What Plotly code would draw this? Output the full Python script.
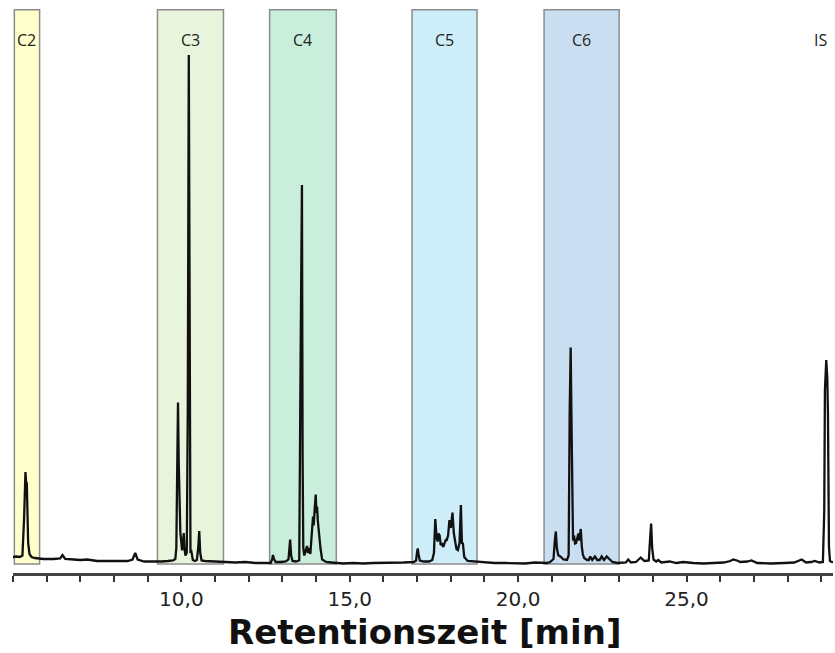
import plotly.graph_objects as go

# ---- data: retention time [min] and detector signal (arbitrary units) ----
seg_c2_t = [5.00, 5.10, 5.20, 5.28, 5.33, 5.36, 5.37, 5.39, 5.41, 5.43, 5.45, 5.49, 5.55, 5.65, 5.77]
seg_c2_y = [0.2, 0.3, 0.2, 0.5, 8.0, 16.5, 17.2, 15.2, 15.0, 9.0, 3.0, 0.8, 0.2, 0.0, -0.1]

gap1_t = [5.9, 6.2, 6.40, 6.47, 6.55, 6.8, 7.0, 7.2, 7.5, 7.8, 8.1, 8.4, 8.55, 8.63, 8.70, 8.9, 9.1, 9.3]
gap1_y = [-0.2, -0.2, -0.1, 0.6, -0.2, -0.3, -0.4, -0.3, -0.6, -0.6, -0.6, -0.6, -0.3, 1.0, -0.3, -0.7, -0.7, -0.8]

seg_c3_t = [9.4, 9.6, 9.75, 9.82, 9.85, 9.88, 9.90, 9.92, 9.95, 9.97, 10.00, 10.02, 10.05, 10.07, 10.09, 10.12,
            10.16, 10.19, 10.22, 10.24, 10.26, 10.27, 10.29, 10.31, 10.34, 10.40, 10.46, 10.50, 10.53, 10.56,
            10.60, 10.7, 10.9, 11.1]
seg_c3_y = [-0.7, -0.6, -0.5, -0.2, 2.0, 20.0, 31.1, 19.5, 9.3, 5.0, 3.0, 1.5, 3.5, 5.0, 2.0, 0.5,
            1.0, 30.0, 100.6, 60.0, 5.0, 1.0, 1.6, 0.2, -0.4, -0.6, -0.4, 2.0, 5.4, 1.0,
            -0.5, -0.6, -0.7, -0.7]

gap2_t = [11.3, 11.6, 11.9, 12.2, 12.5]
gap2_y = [-0.8, -0.9, -0.8, -1.0, -1.0]

seg_c4_t = [12.65, 12.70, 12.72, 12.75, 12.80, 12.95, 13.10, 13.18, 13.21, 13.23, 13.26, 13.30, 13.40, 13.50,
            13.54, 13.56, 13.58, 13.60, 13.62, 13.65, 13.69, 13.73, 13.76, 13.80, 13.83, 13.86, 13.88,
            13.91, 13.93, 13.96, 13.99, 14.01, 14.03, 14.05, 14.07, 14.10, 14.13, 14.18, 14.3, 14.45, 14.6]
seg_c4_y = [-1.0, -0.2, 0.6, -0.2, -0.8, -0.8, -0.7, -0.3, 2.5, 3.7, 0.5, -0.6, -0.7, -0.5,
            39.6, 60.6, 74.6, 20.0, 2.0, 0.5, 1.5, 2.4, 1.0, 2.0, 0.8, 3.0, 5.6,
            8.3, 6.5, 10.0, 12.7, 9.0, 10.3, 7.6, 6.0, 5.0, 2.0, -0.3, -0.8, -0.9, -1.0]

gap3_t = [14.8, 15.1, 15.4, 15.7, 16.0, 16.3, 16.6]
gap3_y = [-1.1, -1.0, -1.1, -1.0, -1.0, -0.9, -0.9]

seg_c5_t = [16.9, 16.97, 17.00, 17.02, 17.04, 17.08, 17.2, 17.35, 17.45, 17.50, 17.54, 17.58, 17.61, 17.64,
            17.67, 17.70, 17.74, 17.78, 17.81, 17.85, 17.88, 17.92, 17.96, 18.00, 18.05, 18.09, 18.13,
            18.17, 18.21, 18.26, 18.30, 18.33, 18.36, 18.40, 18.5, 18.65, 18.8]
seg_c5_y = [-0.8, -0.5, 1.2, 1.9, 0.9, -0.5, -0.7, -0.7, -0.4, 1.0, 7.8, 4.0, 3.3, 4.9,
            4.5, 2.6, 2.8, 2.2, 2.9, 3.6, 3.6, 4.5, 7.6, 6.0, 9.1, 5.0, 3.3,
            1.8, 1.6, 3.0, 10.6, 3.0, 2.9, 0.2, -0.6, -0.7, -0.8]

gap4_t = [19.0, 19.3, 19.6, 19.9, 20.2, 20.5, 20.7]
gap4_y = [-0.9, -1.0, -1.0, -1.1, -1.1, -0.9, -1.0]

seg_c6_t = [20.85, 20.95, 21.05, 21.09, 21.12, 21.15, 21.19, 21.25, 21.35, 21.45, 21.50, 21.53, 21.56, 21.58,
            21.61, 21.63, 21.66, 21.69, 21.72, 21.75, 21.79, 21.82, 21.86, 21.89, 21.92, 21.96, 22.05,
            22.10, 22.14, 22.20, 22.28, 22.35, 22.42, 22.48, 22.55, 22.63, 22.8, 22.95]
seg_c6_y = [-1.0, -0.8, -0.2, 3.5, 5.3, 2.0, 0.6, 0.3, -0.3, -0.4, 0.5, 29.0, 42.1, 30.0,
            5.9, 3.5, 4.5, 2.9, 3.0, 4.0, 4.9, 3.5, 5.8, 2.3, 0.8, 0.0, -0.4,
            -0.4, 0.3, -0.4, 0.3, -0.4, -0.4, 0.3, -0.4, 0.3, -0.8, -1.0]

tail_t = [23.1, 23.2, 23.27, 23.35, 23.5, 23.64, 23.75, 23.88, 23.92, 23.95, 23.98, 24.02, 24.1, 24.16, 24.25,
          24.5, 24.7, 24.9, 25.2, 25.5, 25.8, 26.1, 26.3, 26.39, 26.5, 26.6, 26.8, 26.93, 27.1, 27.5, 27.9,
          28.2, 28.42, 28.55, 28.7, 28.81, 28.95, 29.05, 29.09, 29.11, 29.15, 29.18, 29.20, 29.23, 29.26,
          29.30, 29.35]
tail_y = [-1.0, -0.9, -0.3, -0.9, -0.8, 0.1, -0.6, -0.5, 4.0, 6.9, 2.0, -0.3, -0.7, -0.4, -0.9,
          -0.7, -1.0, -0.8, -1.0, -1.1, -1.0, -0.9, -0.6, -0.3, -0.5, -0.8, -0.7, -0.5, -1.0, -1.1, -1.0,
          -0.9, -0.3, -0.9, -0.8, -0.6, -0.9, -0.8, 9.3, 33.6, 39.6, 36.0, 28.9, 2.3, -0.6,
          -0.8, -0.9]

# fraction windows (retention time ranges)
window_labels = ["C2", "C3", "C4", "C5", "C6"]
window_start = [5.04, 9.29, 12.62, 16.85, 20.77]
window_end = [5.79, 11.25, 14.60, 18.78, 23.00]
window_colors = ["#FFFFCC", "#E8F5DC", "#C9EEDB", "#CDEEF9", "#C9DEF0"]
is_label = "IS"
is_label_time = 28.97

time_min = (seg_c2_t + gap1_t + seg_c3_t + gap2_t + seg_c4_t + gap3_t + seg_c5_t
            + gap4_t + seg_c6_t + tail_t)
signal = (seg_c2_y + gap1_y + seg_c3_y + gap2_y + seg_c4_y + gap3_y + seg_c5_y
          + gap4_y + seg_c6_y + tail_y)

Y_MIN, Y_MAX = -3.0, 109.8

fig = go.Figure()

label_font = dict(family="Open Sans, Liberation Sans", size=16, color="#222")
shapes = []
annotations = []
for lab, s, e, c in zip(window_labels, window_start, window_end, window_colors):
    shapes.append(dict(type="rect", xref="x", yref="y", x0=s, x1=e, y0=-1.2, y1=Y_MAX - 0.15,
                       fillcolor=c, line=dict(color="#8C8C8C", width=1.5), layer="below"))
    annotations.append(dict(x=(s + e) / 2, y=0.945, xref="x", yref="paper", text=lab,
                            showarrow=False, yanchor="middle", font=label_font))
annotations.append(dict(x=is_label_time, y=0.945, xref="x", yref="paper", text=is_label,
                        showarrow=False, yanchor="middle", font=label_font))
annotations.append(dict(x=0.502, y=-0.1046, xref="paper", yref="paper", text="<b>Retentionszeit [min]</b>",
                        showarrow=False, yanchor="middle",
                        font=dict(family="DejaVu Sans", size=34, color="#111")))

fig.add_trace(go.Scatter(x=time_min, y=signal, mode="lines",
                         line=dict(color="#111111", width=2.3), hoverinfo="skip", showlegend=False))

fig.update_layout(
    width=835, height=653,
    margin=dict(l=13, r=2, t=9, b=80),
    paper_bgcolor="white", plot_bgcolor="white",
    separators=",.",
    shapes=shapes, annotations=annotations,
    xaxis=dict(range=[5.0, 29.35], showgrid=False, zeroline=False,
               showline=True, linecolor="#444", linewidth=3,
               ticks="outside", ticklen=6, tickwidth=2, tickcolor="#333",
               tick0=0, dtick=5, tickformat=".1f",
               tickfont=dict(family="DejaVu Sans", size=20, color="#222"),
               minor=dict(ticks="outside", dtick=1, tick0=0, ticklen=6, tickwidth=2, tickcolor="#333")),
    yaxis=dict(range=[Y_MIN, Y_MAX], visible=False, showgrid=False, zeroline=False),
)

fig.write_html("out.html", config={"displayModeBar": False},
               post_script="document.body.style.margin='0';document.body.style.overflow='hidden';")
